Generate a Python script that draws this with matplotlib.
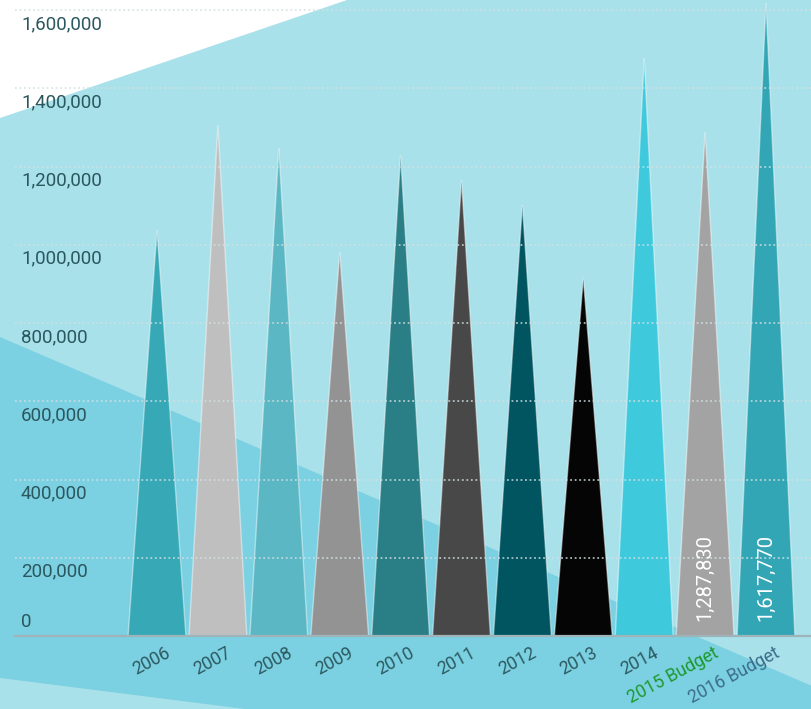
import matplotlib
matplotlib.use("Agg")
import matplotlib.pyplot as plt
from matplotlib import font_manager
from matplotlib.patches import Polygon
from matplotlib.transforms import blended_transform_factory, offset_copy

# Data
years = ["2006", "2007", "2008", "2009", "2010", "2011", "2012", "2013",
         "2014", "2015 Budget", "2016 Budget"]
values = [1038000, 1306000, 1247000, 981000, 1229000, 1165000, 1102000,
          915000, 1477000, 1287830, 1617770]
bar_colors = ["#36a8b6", "#bfbfbf", "#5bb7c3", "#939393", "#2a7e86", "#484848",
              "#005560", "#050505", "#3ec9dc", "#a3a3a3", "#33a6b6"]
label_colors = ["#2d5b62"] * 9 + ["#1e9a30", "#3d6e8c"]
labelled = {"2015 Budget": "1,287,830", "2016 Budget": "1,617,770"}
y_ticks = [0, 200000, 400000, 600000, 800000, 1000000, 1200000, 1400000, 1600000]

available = {f.name for f in font_manager.fontManager.ttflist}
font = "Liberation Sans Narrow" if "Liberation Sans Narrow" in available else "Roboto"
plt.rcParams["font.family"] = [font, "DejaVu Sans"]

W, H = 812, 709
fig = plt.figure(figsize=(W / 100, H / 100), dpi=100)
ax = fig.add_axes([0, 0, 1, 1])

# axis scales: category spacing ~60.9px, first centre at x=157px, baseline at y=636px
step = 60.9
ax.set_xlim(-157 / step, (W - 157) / step)
ppv = 391.25 / 1e6
ax.set_ylim(-(H - 636) / ppv, 636 / ppv)
ax.axis("off")

# background bands (axes fraction coordinates)
def px(pts):
    return [(x / W, 1 - y / H) for x, y in pts]

ax.add_patch(Polygon(px([(0, 0), (W, 0), (W, H), (0, H)]), closed=True,
                     transform=ax.transAxes, color="#a9e1ea", zorder=0, lw=0))
ax.add_patch(Polygon(px([(0, 0), (347, 0), (0, 118)]), closed=True,
                     transform=ax.transAxes, color="#ffffff", zorder=0.1, lw=0))
ax.add_patch(Polygon(px([(0, 337), (W, 686), (W, H), (245, H), (0, 678)]), closed=True,
                     transform=ax.transAxes, color="#7bd0e2", zorder=0.1, lw=0))

# spikes
w = 0.95
for i, (v, c) in enumerate(zip(values, bar_colors)):
    ax.fill([i - w / 2, i, i + w / 2], [0, v, 0], color=c, zorder=2,
            ec=(1, 1, 1, 0.45), lw=1)

# gridlines and baseline
x_start = 15 / W
for t in y_ticks[1:]:
    ax.axhline(t, xmin=x_start, xmax=1, color="#d2e0e3", lw=1.3,
               ls=(0, (1, 1.5)), alpha=0.8, zorder=3)
ax.axhline(0, xmin=x_start, xmax=1, color="#9fb4b8", lw=1.6, zorder=3)

# y-axis labels
bt = blended_transform_factory(ax.transAxes, ax.transData)
for t in y_ticks:
    dy = 10 if t == 0 else -10
    tr = offset_copy(bt, fig=fig, x=0, y=dy, units="points")
    ax.text(21 / W, t, f"{t:,}", transform=tr, ha="left", va="center",
            fontsize=13.5, color="#2b575e", zorder=4)

# x-axis labels
for i, (lab, c) in enumerate(zip(years, label_colors)):
    tr = offset_copy(ax.transData, fig=fig, x=6, y=-5.5, units="points")
    ax.text(i, 0, lab, transform=tr, ha="right", va="top", rotation=28,
            rotation_mode="anchor", fontsize=12.8, color=c, zorder=4)

# value labels inside the budget spikes
for i, lab in enumerate(years):
    if lab in labelled:
        tr = offset_copy(ax.transData, fig=fig, x=0, y=11, units="points")
        ax.text(i, 0, labelled[lab], transform=tr, ha="center", va="bottom",
                rotation=90, fontsize=14.5, color="white", zorder=4)

fig.savefig("out.png", dpi=100)
